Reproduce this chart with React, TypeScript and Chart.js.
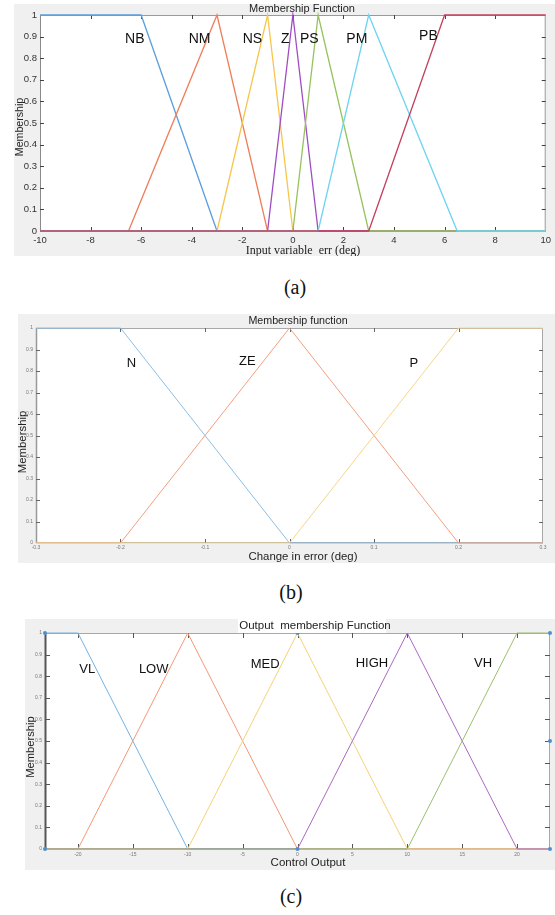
import React, { useEffect, useRef } from "react";
import { Chart, registerables } from "chart.js";
Chart.register(...registerables);

// ---------- shared ----------
const memTicksY = [0, 0.1, 0.2, 0.3, 0.4, 0.5, 0.6, 0.7, 0.8, 0.9, 1];

// ---------- (a) Input variable err ----------
const errTicksX = [-10, -8, -6, -4, -2, 0, 2, 4, 6, 8, 10];
const errNames = ["NB", "NM", "NS", "Z", "PS", "PM", "PB"];
const nbX = [-10, -6, -3, 10];
const nbY = [1, 1, 0, 0];
const nmX = [-10, -6.5, -3, -1, 10];
const nmY = [0, 0, 1, 0, 0];
const nsX = [-10, -3, -1, 0, 10];
const nsY = [0, 0, 1, 0, 0];
const zX = [-10, -1, 0, 1, 10];
const zY = [0, 0, 1, 0, 0];
const psX = [-10, 0, 1, 3, 10];
const psY = [0, 0, 1, 0, 0];
const pmX = [-10, 1, 3, 6.5, 10];
const pmY = [0, 0, 1, 0, 0];
const pbX = [-10, 3, 6, 10];
const pbY = [0, 0, 1, 1];
const errLabelX = [-6.25, -3.69, -1.6, -0.3, 0.65, 2.53, 5.36];
const errLabelY = [0.89, 0.89, 0.89, 0.89, 0.89, 0.89, 0.9];

// ---------- (b) Change in error ----------
const dErrTicksX = [-0.3, -0.2, -0.1, 0, 0.1, 0.2, 0.3];
const dErrNames = ["N", "ZE", "P"];
const nX = [-0.3, -0.2, 0, 0.3];
const nY = [1, 1, 0, 0];
const zeX = [-0.3, -0.2, 0, 0.2, 0.3];
const zeY = [0, 0, 1, 0, 0];
const pX = [-0.3, 0, 0.2, 0.3];
const pY = [0, 0, 1, 1];
const dErrLabelX = [-0.187, -0.05, 0.147];
const dErrLabelY = [0.836, 0.846, 0.836];

// ---------- (c) Control output ----------
const outTicksX = [-20, -15, -10, -5, 0, 5, 10, 15, 20];
const outNames = ["VL", "LOW", "MED", "HIGH", "VH"];
const vlX = [-23, -20, -10, 23];
const vlY = [1, 1, 0, 0];
const lowX = [-23, -20, -10, 0, 23];
const lowY = [0, 0, 1, 0, 0];
const medX = [-23, -10, 0, 10, 23];
const medY = [0, 0, 1, 0, 0];
const highX = [-23, 0, 10, 20, 23];
const highY = [0, 0, 1, 0, 0];
const vhX = [-23, 10, 20, 23];
const vhY = [0, 0, 1, 1];
const handleX = [-23, -23, 0, 0, 23, 23, 23];
const handleY = [1, 0, 1, 0, 1, 0.5, 0];
const outLabelX = [-19.15, -13.1, -2.95, 6.78, 16.9];
const outLabelY = [0.83, 0.83, 0.855, 0.86, 0.86];

const SANS = "'Liberation Sans', Arial, sans-serif";
const SERIF = "'Liberation Serif', 'Times New Roman', serif";

type Series = { x: number[]; y: number[]; color: string };
type Spec = {
  left: number; top: number; w: number; h: number;
  xMin: number; xMax: number; xTicks: number[];
  series: Series[];
  names: string[]; labelX: number[]; labelY: number[];
  handles?: { x: number[]; y: number[] };
  padTop: number; padRight: number; yW: number; xH: number;
  tickFont: number; tickColor: string; xTickPad: number; yTickPad: number;
  lineW: number;
  title: string; titleX: number; titleY: number; titleSize: number; titleBg?: number[];
  xTitle: string; xTitleX: number; xTitleY: number; xTitleFont: string;
  yTitleX: number; yTitleY: number; yTitleSize: number;
  termSize: number;
  boxColor: string; leftColor: string; leftW: number; tickLen: number; tickMarkColor: string;
};

const zip = (xs: number[], ys: number[]) => xs.map((x, i) => ({ x, y: ys[i] }));

function makeDecor(s: Spec) {
  return {
    id: "decor",
    beforeDraw(chart: any) {
      const { ctx, chartArea: a } = chart;
      ctx.save();
      ctx.fillStyle = "#ffffff";
      ctx.fillRect(a.left, a.top, a.right - a.left, a.bottom - a.top);
      ctx.restore();
    },
    beforeDatasetsDraw(chart: any) {
      const { ctx, chartArea: a, scales } = chart;
      ctx.save();
      ctx.strokeStyle = s.boxColor;
      ctx.lineWidth = 1;
      ctx.strokeRect(a.left + 0.5, a.top + 0.5, a.right - a.left - 1, a.bottom - a.top - 1);
      ctx.strokeStyle = s.leftColor;
      ctx.lineWidth = s.leftW;
      ctx.beginPath();
      ctx.moveTo(a.left + 0.5, a.top);
      ctx.lineTo(a.left + 0.5, a.bottom);
      ctx.stroke();
      ctx.strokeStyle = s.tickMarkColor;
      ctx.lineWidth = 1;
      ctx.beginPath();
      for (const t of scales.x.ticks) {
        const px = Math.round(scales.x.getPixelForValue(t.value)) + 0.5;
        if (px <= a.left + 1 || px >= a.right - 1) continue;
        ctx.moveTo(px, a.bottom);
        ctx.lineTo(px, a.bottom - s.tickLen);
        ctx.moveTo(px, a.top);
        ctx.lineTo(px, a.top + s.tickLen);
      }
      for (const t of scales.y.ticks) {
        const py = Math.round(scales.y.getPixelForValue(t.value)) + 0.5;
        if (py <= a.top + 1 || py >= a.bottom - 1) continue;
        ctx.moveTo(a.left, py);
        ctx.lineTo(a.left + s.tickLen, py);
        ctx.moveTo(a.right, py);
        ctx.lineTo(a.right - s.tickLen, py);
      }
      ctx.stroke();
      ctx.restore();
    },
    afterDraw(chart: any) {
      const { ctx, scales } = chart;
      ctx.save();
      ctx.fillStyle = "#111";
      ctx.textAlign = "center";
      ctx.textBaseline = "middle";
      ctx.font = `${s.termSize}px ${SANS}`;
      s.names.forEach((n, i) => {
        ctx.fillText(n, scales.x.getPixelForValue(s.labelX[i]), scales.y.getPixelForValue(s.labelY[i]));
      });
      if (s.titleBg) {
        ctx.fillStyle = "#ffffff";
        ctx.fillRect(s.titleBg[0], s.titleBg[1], s.titleBg[2], s.titleBg[3]);
      }
      ctx.fillStyle = "#222";
      ctx.font = `${s.titleSize}px ${SANS}`;
      ctx.fillText(s.title, s.titleX, s.titleY);
      ctx.font = s.xTitleFont;
      ctx.fillText(s.xTitle, s.xTitleX, s.xTitleY);
      ctx.translate(s.yTitleX, s.yTitleY);
      ctx.rotate(-Math.PI / 2);
      ctx.font = `${s.yTitleSize}px ${SANS}`;
      ctx.fillText("Membership", 0, 0);
      ctx.restore();
    },
  };
}

function MFChart({ spec }: { spec: Spec }) {
  const ref = useRef<HTMLCanvasElement>(null);
  useEffect(() => {
    const s = spec;
    const datasets: any[] = s.series.map((se, i) => ({
      data: zip(se.x, se.y),
      showLine: true,
      borderColor: se.color,
      backgroundColor: se.color,
      borderWidth: s.lineW,
      pointRadius: 0,
      tension: 0,
      clip: 4,
      order: 100 - i,
    }));
    if (s.handles) {
      datasets.push({
        data: zip(s.handles.x, s.handles.y),
        showLine: false,
        pointRadius: 2,
        pointBackgroundColor: "#4f8fd0",
        pointBorderWidth: 0,
        clip: 4,
        order: 0,
      });
    }
    const tickFont = { family: SANS, size: s.tickFont };
    const chart = new Chart(ref.current!, {
      type: "scatter",
      data: { datasets },
      options: {
        responsive: false,
        animation: false,
        devicePixelRatio: 1,
        layout: { padding: { left: 0, top: s.padTop, right: s.padRight, bottom: 0 } },
        plugins: { legend: { display: false }, tooltip: { enabled: false }, title: { display: false } },
        scales: {
          x: {
            type: "linear",
            min: s.xMin,
            max: s.xMax,
            afterBuildTicks: (sc: any) => { sc.ticks = s.xTicks.map((v) => ({ value: v })); },
            afterFit: (sc: any) => { sc.height = s.xH; },
            grid: { display: false, drawTicks: false },
            border: { display: false },
            ticks: {
              font: tickFont, color: s.tickColor, padding: s.xTickPad,
              maxRotation: 0, autoSkip: false,
              callback: (v: any) => String(v),
            },
          },
          y: {
            type: "linear",
            min: 0,
            max: 1,
            afterBuildTicks: (sc: any) => { sc.ticks = memTicksY.map((v) => ({ value: v })); },
            afterFit: (sc: any) => { sc.width = s.yW; },
            grid: { display: false, drawTicks: false },
            border: { display: false },
            ticks: {
              font: tickFont, color: s.tickColor, padding: s.yTickPad, autoSkip: false,
              callback: (v: any) => String(v),
            },
          },
        },
      },
      plugins: [makeDecor(s)],
    } as any);
    return () => chart.destroy();
  }, [spec]);
  return (
    <div style={{ position: "absolute", left: spec.left, top: spec.top, width: spec.w, height: spec.h, background: "#f0f0f0" }}>
      <canvas ref={ref} width={spec.w} height={spec.h} style={{ display: "block", width: spec.w, height: spec.h }} />
    </div>
  );
}

const specA: Spec = {
  left: 14, top: 4, w: 541, h: 252,
  xMin: -10, xMax: 10, xTicks: errTicksX,
  series: [
    { x: nbX, y: nbY, color: "#5a9fdc" },
    { x: nmX, y: nmY, color: "#ee7f5a" },
    { x: nsX, y: nsY, color: "#f6c64a" },
    { x: zX, y: zY, color: "#a04cc4" },
    { x: psX, y: psY, color: "#94c45a" },
    { x: pmX, y: pmY, color: "#6fd3f2" },
    { x: pbX, y: pbY, color: "#c4415e" },
  ],
  names: errNames, labelX: errLabelX, labelY: errLabelY,
  padTop: 11, padRight: 7, yW: 26, xH: 25,
  tickFont: 9.5, tickColor: "#333", xTickPad: 4, yTickPad: 3,
  lineW: 1.3,
  title: "Membership Function", titleX: 288, titleY: 5, titleSize: 11,
  xTitle: "Input variable  err (deg)", xTitleX: 289, xTitleY: 247, xTitleFont: `12px ${SERIF}`,
  yTitleX: 6, yTitleY: 123, yTitleSize: 10.6,
  termSize: 14,
  boxColor: "#9a9a9a", leftColor: "#8a8a8a", leftW: 1, tickLen: 4, tickMarkColor: "#444",
};

const specB: Spec = {
  left: 18, top: 314, w: 537, h: 249,
  xMin: -0.3, xMax: 0.3, xTicks: dErrTicksX,
  series: [
    { x: nX, y: nY, color: "#8cbfe6" },
    { x: zeX, y: zeY, color: "#f3a080" },
    { x: pX, y: pY, color: "#f8d68a" },
  ],
  names: dErrNames, labelX: dErrLabelX, labelY: dErrLabelY,
  padTop: 14, padRight: 12, yW: 18, xH: 20,
  tickFont: 5, tickColor: "#777", xTickPad: 2, yTickPad: 3,
  lineW: 1,
  title: "Membership function", titleX: 280, titleY: 7, titleSize: 10.7,
  xTitle: "Change in error (deg)", xTitleX: 285, xTitleY: 243, xTitleFont: `11.4px ${SANS}`,
  yTitleX: 5, yTitleY: 128, yTitleSize: 11.4,
  termSize: 13,
  boxColor: "#a8a8a8", leftColor: "#999", leftW: 1.5, tickLen: 4, tickMarkColor: "#666",
};

const specC: Spec = {
  left: 25, top: 619, w: 530, h: 251,
  xMin: -23, xMax: 23, xTicks: outTicksX,
  series: [
    { x: vlX, y: vlY, color: "#76b3e3" },
    { x: lowX, y: lowY, color: "#f29a78" },
    { x: medX, y: medY, color: "#f6d27a" },
    { x: highX, y: highY, color: "#aa6ac4" },
    { x: vhX, y: vhY, color: "#9cc070" },
  ],
  names: outNames, labelX: outLabelX, labelY: outLabelY,
  handles: { x: handleX, y: handleY },
  padTop: 14, padRight: 5, yW: 20, xH: 21,
  tickFont: 5, tickColor: "#777", xTickPad: 3, yTickPad: 3,
  lineW: 1,
  title: "Output  membership Function", titleX: 290, titleY: 7, titleSize: 11.5, titleBg: [213, 0, 148, 14],
  xTitle: "Control Output", xTitleX: 283, xTitleY: 244, xTitleFont: `11.5px ${SANS}`,
  yTitleX: 6, yTitleY: 128, yTitleSize: 11.2,
  termSize: 13,
  boxColor: "#a8a8a8", leftColor: "#555", leftW: 2, tickLen: 5, tickMarkColor: "#555",
};

const capStyle = (cy: number, cx: number): React.CSSProperties => ({
  position: "absolute", left: cx - 50, top: cy - 12, width: 100, height: 24, lineHeight: "24px",
  textAlign: "center", fontFamily: SERIF, fontSize: 20, color: "#111",
});

export default function App() {
  return (
    <div style={{ position: "absolute", left: 0, top: 0, width: 555, height: 915, background: "#fff" }}>
      <MFChart spec={specA} />
      <div style={capStyle(287, 295)}>(a)</div>
      <MFChart spec={specB} />
      <div style={capStyle(592, 291)}>(b)</div>
      <MFChart spec={specC} />
      <div style={capStyle(896, 291)}>(c)</div>
    </div>
  );
}
